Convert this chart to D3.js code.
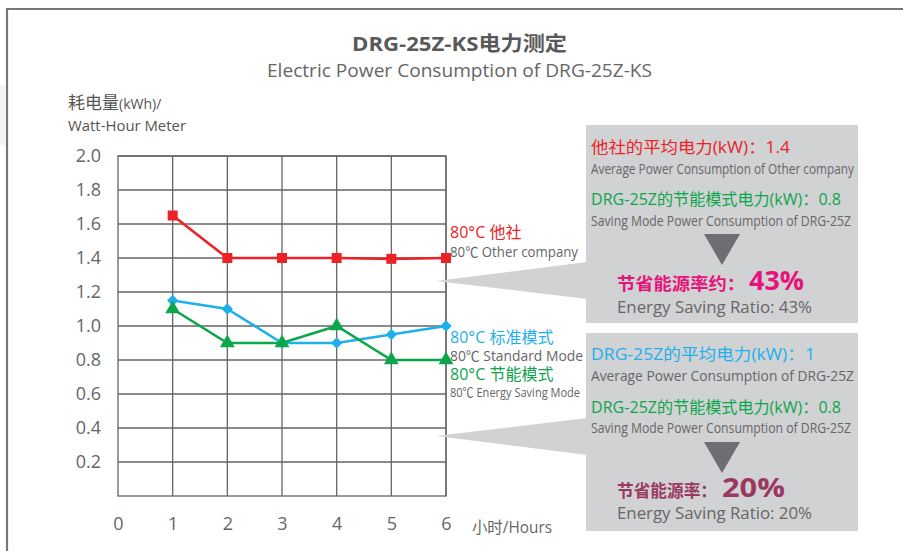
<!DOCTYPE html>
<html>
<head>
<meta charset="utf-8">
<script src="https://cdn.jsdelivr.net/npm/d3@7"></script>
<style>
  body { margin: 0; background: #fff; }
  svg { display: block; font-family: "Open Sans", "Noto Sans CJK SC", sans-serif; }
</style>
</head>
<body>
<svg id="chart" width="903" height="551"></svg>
<script>
// data
const hours = [1, 2, 3, 4, 5, 6];
const otherCompany = [1.65, 1.4, 1.4, 1.4, 1.395, 1.4];
const standardMode = [1.15, 1.1, 0.9, 0.9, 0.95, 1.0];
const savingMode = [1.1, 0.9, 0.9, 1.0, 0.8, 0.8];
const xTicks = [0, 1, 2, 3, 4, 5, 6];
const yTicks = [0.2, 0.4, 0.6, 0.8, 1.0, 1.2, 1.4, 1.6, 1.8, 2.0];

const series = [
  { name: '80°C 他社', en: '80℃ Other company', values: otherCompany, color: '#ec2227', symbol: 'square' },
  { name: '80°C 标准模式', en: '80℃ Standard Mode', values: standardMode, color: '#1fafec', symbol: 'diamond' },
  { name: '80°C 节能模式', en: '80℃ Energy Saving Mode', values: savingMode, color: '#0ca64b', symbol: 'triangle' }
];

const svg = d3.select('#chart');
const grey = '#666';

// outer frame
svg.append('rect').attr('x', 0).attr('y', 85).attr('width', 5).attr('height', 60).attr('fill', '#eef4f8');
svg.append('path')
  .attr('d', 'M7,551 V9 H903')
  .attr('fill', 'none').attr('stroke', '#777').attr('stroke-width', 2.2);

// titles
svg.append('text').attr('x', 352).attr('y', 51)
  .attr('font-size', 20).attr('font-weight', 'bold').attr('fill', '#595959')
  .attr('textLength', 215).attr('lengthAdjust', 'spacingAndGlyphs')
  .text('DRG-25Z-KS电力测定');
svg.append('text').attr('x', 267).attr('y', 77)
  .attr('font-size', 18).attr('fill', grey)
  .attr('textLength', 385).attr('lengthAdjust', 'spacingAndGlyphs')
  .text('Electric Power Consumption of DRG-25Z-KS');
const yTitle = svg.append('text').attr('x', 68).attr('y', 109).attr('fill', '#555');
yTitle.append('tspan').attr('font-size', 17).text('耗电量');
yTitle.append('tspan').attr('font-size', 14).text('(kWh)/');
svg.append('text').attr('x', 68).attr('y', 131).attr('font-size', 15).attr('fill', '#555')
  .attr('textLength', 118).attr('lengthAdjust', 'spacingAndGlyphs')
  .text('Watt-Hour Meter');

// scales
const x = d3.scaleLinear().domain([0, 6]).range([118, 446]);
const y = d3.scaleLinear().domain([0, 2]).range([496, 156]);

// grid
const grid = svg.append('g').attr('stroke', grey).attr('stroke-width', 1.3);
grid.selectAll('.hgrid').data(yTicks).join('line').attr('class', 'hgrid')
  .attr('x1', x(0)).attr('x2', x(6)).attr('y1', d => y(d)).attr('y2', d => y(d));
grid.selectAll('.vgrid').data(hours).join('line').attr('class', 'vgrid')
  .attr('x1', d => x(d)).attr('x2', d => x(d)).attr('y1', y(0)).attr('y2', y(2));
grid.append('rect').attr('x', x(0)).attr('y', y(2)).attr('width', x(6) - x(0)).attr('height', y(0) - y(2))
  .attr('fill', 'none');

// axes (labels only)
const yAxis = svg.append('g').attr('transform', `translate(${x(0)},0)`)
  .call(d3.axisLeft(y).tickValues(yTicks).tickFormat(d3.format('.1f')).tickSize(0).tickPadding(17));
const xAxis = svg.append('g').attr('transform', `translate(0,${y(0)})`)
  .call(d3.axisBottom(x).tickValues(xTicks).tickFormat(d3.format('d')).tickSize(0).tickPadding(21));
[yAxis, xAxis].forEach(a => {
  a.select('.domain').remove();
  a.selectAll('text').attr('font-size', 18).attr('fill', grey)
    .attr('font-family', '"Open Sans", sans-serif');
});
svg.append('text').attr('x', 472).attr('y', 533).attr('font-size', 16).attr('fill', grey)
  .attr('textLength', 80).attr('lengthAdjust', 'spacingAndGlyphs')
  .text('小时/Hours');

// callout boxes
const boxFill = '#d1d2d4';
svg.append('rect').attr('x', 586).attr('y', 125).attr('width', 272).attr('height', 198).attr('fill', boxFill);
svg.append('rect').attr('x', 586).attr('y', 333).attr('width', 272).attr('height', 198).attr('fill', boxFill);
svg.append('polygon').attr('points', '436,281 587,262 587,299').attr('fill', boxFill);
svg.append('polygon').attr('points', '436,436 587,418 587,455').attr('fill', boxFill);

// lines
const line = d3.line().x((d, i) => x(hours[i])).y(d => y(d));
const symbols = {
  square: d3.symbol(d3.symbolSquare, 100),
  diamond: d3.symbol(d3.symbolSquare, 64),
  triangle: d3.symbol(d3.symbolTriangle, 95)
};
series.forEach(s => {
  svg.append('path').datum(s.values).attr('d', line)
    .attr('fill', 'none').attr('stroke', s.color).attr('stroke-width', 2.6);
  svg.selectAll(null).data(s.values).join('path')
    .attr('d', symbols[s.symbol])
    .attr('transform', (d, i) => `translate(${x(hours[i])},${y(d)})` + (s.symbol === 'diamond' ? ' rotate(45)' : ''))
    .attr('fill', s.color);
});

// series labels at the right of the plot
const labelPos = [[238, 257, 128], [343, 361, 133], [380, 397, 130]];
series.forEach((s, i) => {
  const [y1, y2, w] = labelPos[i];
  svg.append('text').attr('x', 450).attr('y', y1).attr('font-size', 16).attr('fill', s.color).text(s.name);
  svg.append('text').attr('x', 450).attr('y', y2).attr('font-size', i === 2 ? 13 : 14).attr('fill', grey)
    .attr('textLength', w).attr('lengthAdjust', 'spacingAndGlyphs').text(s.en);
});

// box texts
function boxText(tx, ty, str, size, color, len, weight) {
  const t = svg.append('text').attr('x', tx).attr('y', ty).attr('font-size', size).attr('fill', color).text(str);
  if (len) t.attr('textLength', len).attr('lengthAdjust', 'spacingAndGlyphs');
  if (weight) t.attr('font-weight', weight);
  return t;
}
function arrow(top) {
  svg.append('polygon').attr('points', `704,${top} 740,${top} 722,${top + 31}`).attr('fill', '#6d6e71');
}

boxText(591, 153, '他社的平均电力(kW)：1.4', 16, '#ec2227', 199);
boxText(591, 174, 'Average Power Consumption of Other company', 14, grey, 263);
boxText(591, 205, 'DRG-25Z的节能模式电力(kW)：0.8', 16, '#0ca64b', 250);
boxText(591, 226, 'Saving Mode Power Consumption of DRG-25Z', 14, grey, 260);
arrow(234);
boxText(617, 290, '节省能源率约：', 17, '#e5147c', 128, 'bold');
boxText(749, 290, '43%', 27, '#e5147c', 55, 'bold');
boxText(617, 313, 'Energy Saving Ratio: 43%', 16, grey, 195);

boxText(591, 360, 'DRG-25Z的平均电力(kW)：1', 16, '#1fafec', 224);
boxText(591, 381, 'Average Power Consumption of DRG-25Z', 14, grey, 263);
boxText(591, 413, 'DRG-25Z的节能模式电力(kW)：0.8', 16, '#0ca64b', 250);
boxText(591, 433, 'Saving Mode Power Consumption of DRG-25Z', 14, grey, 260);
arrow(442);
boxText(617, 497, '节省能源率：', 17, '#9b3862', 100, 'bold');
boxText(722, 497, '20%', 27, '#9b3862', 63, 'bold');
boxText(617, 519, 'Energy Saving Ratio: 20%', 16, grey, 195);
</script>
</body>
</html>
